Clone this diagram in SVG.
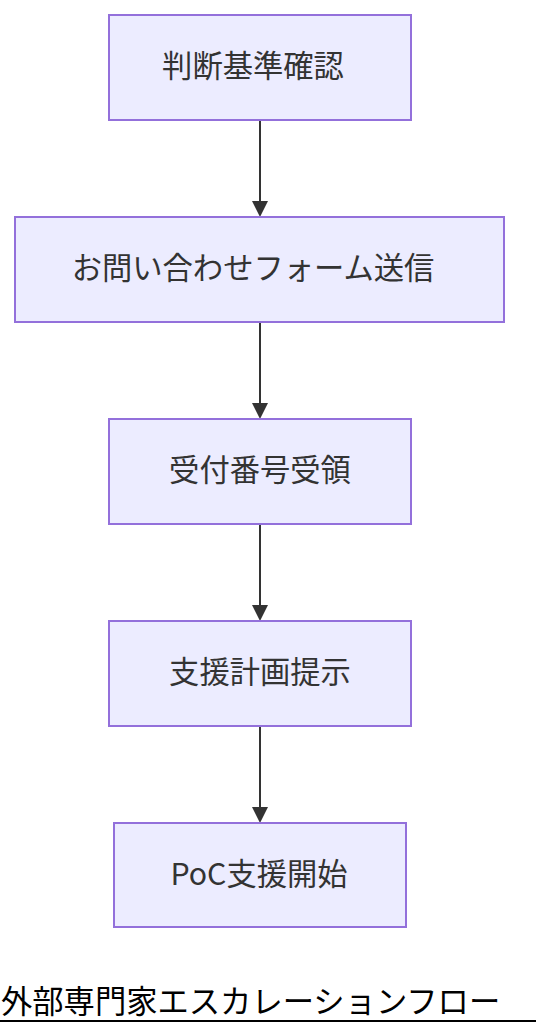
<svg xmlns="http://www.w3.org/2000/svg" width="536" height="1036" viewBox="0 0 536 1036">
<style>
.node rect{fill:#ECECFF;stroke:#9370DB;stroke-width:2}
.node text{font-family:"Noto Sans CJK JP","Noto Sans",sans-serif;font-size:30.3px;fill:#333;text-anchor:middle;dominant-baseline:central}
.edge{stroke:#333;stroke-width:2;fill:none}
.title{font-family:"Noto Sans CJK JP",sans-serif;font-size:31.3px;fill:#000}
</style>
<defs>
<marker id="arr" markerWidth="16" markerHeight="16" refX="14" refY="8" orient="auto" markerUnits="userSpaceOnUse">
<path d="M0,0 L16,8 L0,16 z" fill="#333"/>
</marker>
</defs>
<rect width="536" height="1036" fill="#fff"/>
<g id="edges">
<line class="edge" x1="260" y1="120" x2="260" y2="215" marker-end="url(#arr)"/>
<line class="edge" x1="260" y1="322" x2="260" y2="417" marker-end="url(#arr)"/>
<line class="edge" x1="260" y1="524" x2="260" y2="619" marker-end="url(#arr)"/>
<line class="edge" x1="260" y1="726" x2="260" y2="821" marker-end="url(#arr)"/>
</g>
<g id="n1" class="node"><rect x="109" y="15" width="302" height="105"/><text x="253" y="64">判断基準確認</text></g>
<g id="n2" class="node"><rect x="15" y="217" width="489" height="105"/><text x="253" y="266">お問い合わせフォーム送信</text></g>
<g id="n3" class="node"><rect x="109" y="419" width="302" height="105"/><text x="260" y="468">受付番号受領</text></g>
<g id="n4" class="node"><rect x="109" y="621" width="302" height="105"/><text x="260" y="670">支援計画提示</text></g>
<g id="n5" class="node"><rect x="114" y="823" width="292" height="104"/><text x="259" y="872">PoC支援開始</text></g>
<g id="title">
<text class="title" x="1" y="1013">外部専門家エスカレーションフロー</text>
<line x1="0" y1="1021" x2="536" y2="1021" stroke="#000" stroke-width="2"/>
</g>
</svg>
